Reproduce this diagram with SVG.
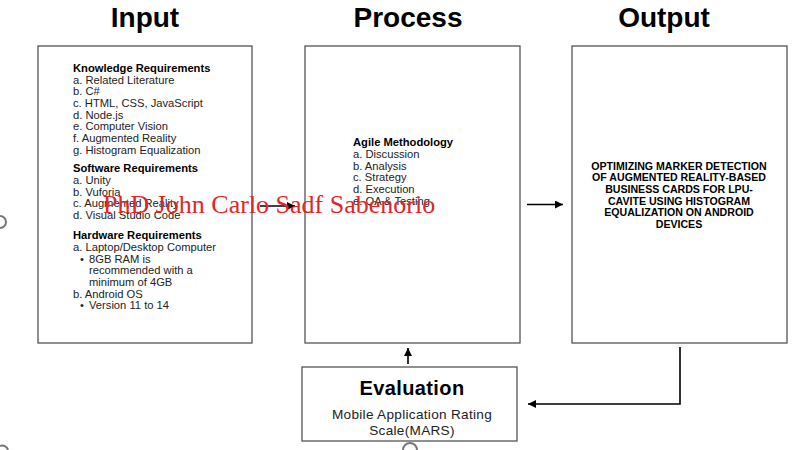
<svg xmlns="http://www.w3.org/2000/svg" width="800" height="450" viewBox="0 0 800 450">
<defs>
<marker id="ah" viewBox="0 0 10 10" refX="10" refY="5" markerWidth="8" markerHeight="8" markerUnits="userSpaceOnUse" orient="auto">
<path d="M0,0 L10,5 L0,10 z" fill="#000"/>
</marker>
<style>
.box{fill:#fff;stroke:#555;stroke-width:1.3}
.title{font-family:"Liberation Sans",Arial,sans-serif;font-weight:bold;font-size:28px;fill:#000;text-anchor:middle}
.t{font-family:"Liberation Sans",Arial,sans-serif;font-size:11.2px;fill:#222}
.b{font-weight:bold;fill:#000}
.out{font-family:"Liberation Sans",Arial,sans-serif;font-weight:bold;font-size:10.6px;fill:#000;text-anchor:middle}
.ev{font-family:"Liberation Sans",Arial,sans-serif;font-size:13.6px;fill:#222;text-anchor:middle;letter-spacing:0.3px}
.conn{stroke:#000;stroke-width:1.6;fill:none}
.wm{font-family:"Liberation Serif","Times New Roman",serif;font-size:26px;fill:#e0262a}
</style>
</defs>
<rect width="800" height="450" fill="#fff"/>
<g id="artifacts" fill="none" stroke="#777" stroke-width="2">
<path d="M0,216 A6,6 0 0 1 0,228"/>
<path d="M0,446 A6,6 0 0 1 8,450"/>
<path d="M403,450 A7,7 0 0 1 417,450"/>
</g>
<g id="titles">
<text class="title" x="145" y="27">Input</text>
<text class="title" x="408" y="27">Process</text>
<text class="title" x="664" y="27">Output</text>
</g>
<g id="input">
<rect class="box" x="38" y="46" width="214" height="297"/>
<text class="t b" x="73" y="72">Knowledge Requirements</text>
<text class="t" x="73" y="83.5">a. Related Literature</text>
<text class="t" x="73" y="95">b. C#</text>
<text class="t" x="73" y="107">c. HTML, CSS, JavaScript</text>
<text class="t" x="73" y="118.5">d. Node.js</text>
<text class="t" x="73" y="130">e. Computer Vision</text>
<text class="t" x="73" y="142">f. Augmented Reality</text>
<text class="t" x="73" y="153.5">g. Histogram Equalization</text>
<text class="t b" x="73" y="172">Software Requirements</text>
<text class="t" x="73" y="183.5">a. Unity</text>
<text class="t" x="73" y="195.5">b. Vuforia</text>
<text class="t" x="73" y="207">c. Augmented Reality</text>
<text class="t" x="73" y="218.5">d. Visual Studio Code</text>
<text class="t b" x="73" y="239">Hardware Requirements</text>
<text class="t" x="73" y="250.5">a. Laptop/Desktop Computer</text>
<text class="t" x="80" y="262.5">•</text>
<text class="t" x="89" y="262.5">8GB RAM is</text>
<text class="t" x="89" y="274">recommended with a</text>
<text class="t" x="89" y="286">minimum of 4GB</text>
<text class="t" x="73" y="297.5">b. Android OS</text>
<text class="t" x="80" y="309">•</text>
<text class="t" x="89" y="309">Version 11 to 14</text>
</g>
<g id="process">
<rect class="box" x="305" y="46" width="215" height="297"/>
<text class="t b" x="353" y="146">Agile Methodology</text>
<text class="t" x="353" y="158">a. Discussion</text>
<text class="t" x="353" y="169.5">b. Analysis</text>
<text class="t" x="353" y="181">c. Strategy</text>
<text class="t" x="353" y="193">d. Execution</text>
<text class="t" x="353" y="204.5">e. QA &amp; Testing</text>
</g>
<g id="output">
<rect class="box" x="572" y="46" width="215" height="297"/>
<text class="out" x="679" y="169.5">OPTIMIZING MARKER DETECTION</text>
<text class="out" x="679" y="181">OF AUGMENTED REALITY-BASED</text>
<text class="out" x="679" y="193">BUSINESS CARDS FOR LPU-</text>
<text class="out" x="679" y="204.5">CAVITE USING HISTOGRAM</text>
<text class="out" x="679" y="216">EQUALIZATION ON ANDROID</text>
<text class="out" x="679" y="227.5">DEVICES</text>
</g>
<g id="evaluation">
<rect class="box" x="302" y="367" width="215" height="74"/>
<text x="412" y="395" font-family="'Liberation Sans',Arial,sans-serif" font-weight="bold" font-size="20" text-anchor="middle" fill="#000" letter-spacing="0.4">Evaluation</text>
<text class="ev" x="412" y="418.5">Mobile Application Rating</text>
<text class="ev" x="412" y="434.5">Scale(MARS)</text>
</g>
<g id="connectors">
<line class="conn" x1="260" y1="206" x2="295" y2="206" marker-end="url(#ah)"/>
<line class="conn" x1="527" y1="204.5" x2="563" y2="204.5" marker-end="url(#ah)"/>
<line class="conn" x1="408" y1="364" x2="408" y2="348" marker-end="url(#ah)"/>
<polyline class="conn" points="680,347 680,404 528,404" marker-end="url(#ah)"/>
</g>
<g id="watermark">
<text class="wm" x="103" y="213">PhD John Carlo Sadf Sabenorio</text>
</g>
</svg>
